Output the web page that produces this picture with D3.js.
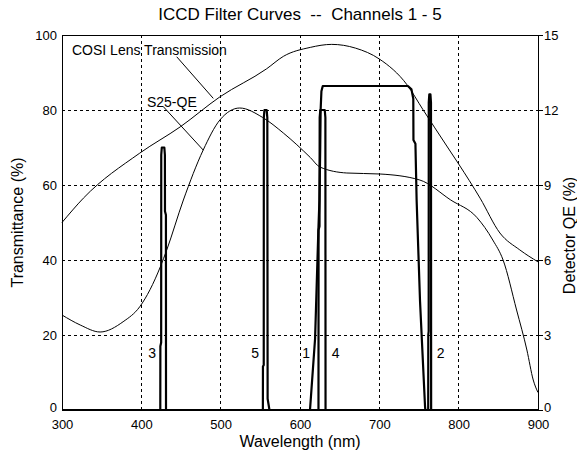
<!DOCTYPE html>
<html>
<head>
<meta charset="utf-8">
<script src="https://cdn.jsdelivr.net/npm/d3@7"></script>
<style>
body { margin: 0; background: #fff; }
text { font-family: "Liberation Sans", Arial, sans-serif; fill: #000; }
</style>
</head>
<body>
<div id="chart"></div>
<script>
// wavelength ticks and axis ticks
var xTicks = [300, 400, 500, 600, 700, 800, 900];
var yLeftTicks = [0, 20, 40, 60, 80, 100];
var yRightTicks = [0, 3, 6, 9, 12, 15];

// COSI lens transmission (%)
var cosiNm = [300, 327, 398, 449, 499, 558, 579, 613, 640, 670, 700, 735, 755, 785, 800, 827, 852, 877, 900];
var cosiT  = [50, 56.5, 68.5, 75.5, 83.5, 91, 94.3, 96.7, 97.5, 96.5, 93.6, 86.7, 80.1, 70.4, 65.6, 56.5, 47.2, 42.7, 39.5];

// S25 photocathode QE (%), right axis
var s25Nm = [300, 323, 348, 377, 398, 424, 432, 453, 478, 499, 524, 553, 579, 613, 625, 659, 701, 751, 790, 823, 843, 856, 873, 886, 894, 900];
var s25QE = [3.8, 3.4, 3.12, 3.53, 4.13, 5.73, 6.4, 8.4, 10.4, 11.6, 12.08, 11.7, 11.08, 10.1, 9.72, 9.48, 9.44, 9.2, 8.4, 7.7, 6.8, 6.0, 4.0, 2.4, 1.2, 0.7];

// filter channels (transmittance %)
var ch1Nm = [300, 612.6, 619, 623, 624.5, 625.5, 626, 627, 628.7, 736, 740.5, 742.8, 743, 745.5, 747, 751.3, 757.6, 758, 900];
var ch1T  = [0, 0, 19, 47, 56, 70, 80, 85, 86.4, 86.4, 85.5, 83, 72, 71, 56, 29, 1, 0, 0];
var ch2Nm = [300, 761.6, 761.7, 762.2, 762.3, 763, 764.4, 765.1, 765.3, 900];
var ch2T  = [0, 0, 20, 21, 82, 84.2, 84.2, 82, 0, 0];
var ch3Nm = [300, 423.9, 424, 425, 425.1, 425.8, 429, 429.7, 429.8, 431, 431.1, 900];
var ch3T  = [0, 0, 17, 18, 68, 70, 70, 68, 53, 52, 0, 0];
var ch4Nm = [300, 623.3, 623.4, 624.6, 624.8, 625.6, 631.2, 632, 632.2, 900];
var ch4T  = [0, 0, 48, 49, 78, 80, 80, 78, 0, 0];
var ch5Nm = [300, 553.2, 553.3, 554.3, 554.4, 555.2, 558, 558.8, 559.2, 561.5, 900];
var ch5T  = [0, 0, 11.6, 12, 78, 80, 80, 78, 3, 0, 0];

// channel number labels (nm, transmittance at baseline)
var chNames = ["3", "5", "1", "4", "2"];
var chLabelNm = [418.5, 548.3, 612.6, 640, 772.3];
var chLabelT = [13.9, 13.9, 13.9, 13.9, 13.9];

// curve labels and leader lines (data units)
var curveNames = ["COSI Lens Transmission", "S25-QE"];
var curveLabelNm = [312.6, 407.1];
var curveLabelT = [94.7, 80.8];
var leaderFromNm = [444.6, 427.7], leaderFromT = [94.2, 80.9];
var leaderToNm = [490.7, 478.1], leaderToT = [83.1, 69.3];

var margin = {top: 35, right: 39, bottom: 42, left: 62},
	width = 577 - margin.left - margin.right,
	height = 452 - margin.top - margin.bottom;

var svg = d3.select("#chart")
	.append("svg")
	.attr("width", 577)
	.attr("height", 452);

var g = svg.append("g")
	.attr("transform", "translate(" + margin.left + "," + margin.top + ")");

var x = d3.scaleLinear().domain([300, 900]).range([0, width]);
var yL = d3.scaleLinear().domain([0, 100]).range([height, 0]);
var yR = d3.scaleLinear().domain([0, 15]).range([height, 0]);

// grid
g.selectAll(".vgrid")
	.data(xTicks.slice(1, -1))
	.enter().append("line")
	.attr("x1", function(d) { return x(d); })
	.attr("x2", function(d) { return x(d); })
	.attr("y1", 0).attr("y2", height)
	.attr("stroke", "#000").attr("stroke-dasharray", "3,3").attr("shape-rendering", "crispEdges");
g.selectAll(".hgrid")
	.data(yLeftTicks.slice(1, -1))
	.enter().append("line")
	.attr("y1", function(d) { return yL(d); })
	.attr("y2", function(d) { return yL(d); })
	.attr("x1", 0).attr("x2", width)
	.attr("stroke", "#000").attr("stroke-dasharray", "3,3").attr("shape-rendering", "crispEdges");

// axes
var xAxis = g.append("g")
	.attr("transform", "translate(0," + height + ")")
	.call(d3.axisBottom(x).tickValues(xTicks).tickSize(0).tickPadding(10).tickFormat(d3.format("d")));
var leftAxis = g.append("g")
	.call(d3.axisLeft(yL).tickValues(yLeftTicks).tickSize(0).tickPadding(5));
var rightAxis = g.append("g")
	.attr("transform", "translate(" + width + ",0)")
	.call(d3.axisRight(yR).tickValues(yRightTicks).tickSize(5).tickPadding(1));
[xAxis, leftAxis, rightAxis].forEach(function(a) {
	a.select(".domain").remove();
	a.selectAll("text").style("font-size", "13px").style("font-family", "'Liberation Sans', Arial, sans-serif");
	a.selectAll("line").attr("stroke", "#000");
});
// lift the corner zeros a little so they sit above the wavelength labels
leftAxis.selectAll(".tick text").filter(function(d) { return d === 0; }).attr("dy", "0.1em");
rightAxis.selectAll(".tick text").filter(function(d) { return d === 0; }).attr("dy", "0.1em");

var line = d3.line()
	.x(function(d) { return x(d[0]); });

// lens and detector curves
g.append("path")
	.datum(d3.zip(cosiNm, cosiT))
	.attr("d", line.y(function(d) { return yL(d[1]); }).curve(d3.curveMonotoneX))
	.attr("fill", "none").attr("stroke", "#000").attr("stroke-width", 1);
g.append("path")
	.datum(d3.zip(s25Nm, s25QE))
	.attr("d", line.y(function(d) { return yR(d[1]); }).curve(d3.curveMonotoneX))
	.attr("fill", "none").attr("stroke", "#000").attr("stroke-width", 1);

// filter curves
var filters = [[ch1Nm, ch1T], [ch2Nm, ch2T], [ch3Nm, ch3T], [ch4Nm, ch4T], [ch5Nm, ch5T]];
var filterLine = d3.line()
	.x(function(d) { return x(d[0]); })
	.y(function(d) { return yL(d[1]); });
g.selectAll(".filter")
	.data(filters)
	.enter().append("path")
	.attr("class", "filter")
	.attr("d", function(f) { return filterLine(d3.zip(f[0], f[1])); })
	.attr("fill", "none").attr("stroke", "#000").attr("stroke-width", 2.2)
	.attr("stroke-linejoin", "round");

// box
g.append("rect")
	.attr("width", width).attr("height", height)
	.attr("fill", "none").attr("stroke", "#000").attr("shape-rendering", "crispEdges");

// channel labels
g.selectAll(".chlab")
	.data(chNames)
	.enter().append("text")
	.attr("x", function(d, i) { return x(chLabelNm[i]); })
	.attr("y", function(d, i) { return yL(chLabelT[i]); })
	.attr("text-anchor", function(d, i) { return i < 3 ? "end" : "start"; })
	.style("font-size", "14px")
	.text(function(d) { return d; });

// curve labels
g.selectAll(".clab")
	.data(curveNames)
	.enter().append("text")
	.attr("x", function(d, i) { return x(curveLabelNm[i]); })
	.attr("y", function(d, i) { return yL(curveLabelT[i]); })
	.style("font-size", "14px")
	.text(function(d) { return d; });
g.selectAll(".leader")
	.data(curveNames)
	.enter().append("line")
	.attr("x1", function(d, i) { return x(leaderFromNm[i]); })
	.attr("y1", function(d, i) { return yL(leaderFromT[i]); })
	.attr("x2", function(d, i) { return x(leaderToNm[i]); })
	.attr("y2", function(d, i) { return yL(leaderToT[i]); })
	.attr("stroke", "#000").attr("stroke-width", 1);

// titles
svg.append("text")
	.attr("x", margin.left + width / 2).attr("y", 20)
	.attr("text-anchor", "middle")
	.style("font-size", "17px").style("white-space", "pre")
	.text("ICCD Filter Curves  --  Channels 1 - 5");
svg.append("text")
	.attr("x", margin.left + width / 2).attr("y", 447)
	.attr("text-anchor", "middle")
	.style("font-size", "16px")
	.text("Wavelength (nm)");
svg.append("text")
	.attr("transform", "translate(23," + (margin.top + height / 2) + ") rotate(-90)")
	.attr("text-anchor", "middle")
	.style("font-size", "16px")
	.text("Transmittance (%)");
svg.append("text")
	.attr("transform", "translate(575," + (margin.top + height / 2 + 13) + ") rotate(-90)")
	.attr("text-anchor", "middle")
	.style("font-size", "16px")
	.text("Detector QE (%)");
</script>
</body>
</html>
